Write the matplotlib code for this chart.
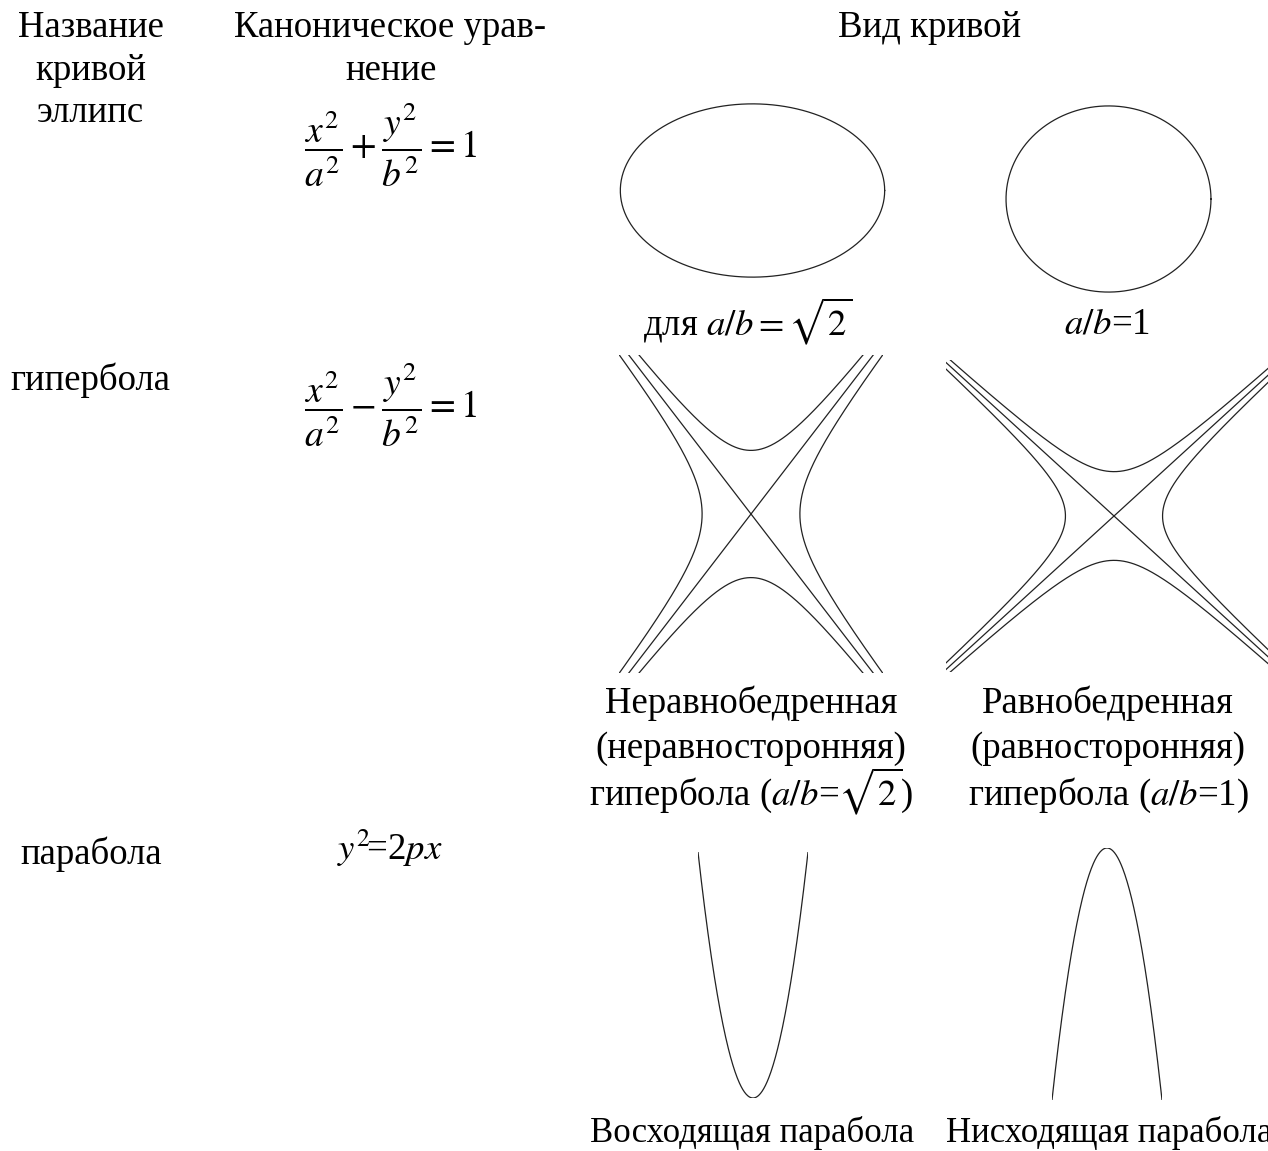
import numpy as np
import matplotlib
matplotlib.use('Agg')
import matplotlib.pyplot as plt

plt.rcParams['font.family'] = ['Liberation Serif', 'DejaVu Serif']
plt.rcParams['mathtext.fontset'] = 'stix'

W, H = 1268, 1151

# данные кривых (полуоси, параметры, окна)
ellipse_ab = [(1.53, 1.0), (1.1, 1.0)]
hyper_ab = [(1.0, 1.3), (1.0, 0.91)]
hyper_lim = [(2.7, 3.25), (3.46, 3.2)]
parab_c = [4.47, -4.62]

col_names = ['Название', 'кривой']
col_eq = ['Каноническое урав-', 'нение']
col_view = 'Вид кривой'
curve_names = ['эллипс', 'гипербола', 'парабола']
equations = [r'$\dfrac{x^2}{a^2}+\dfrac{y^2}{b^2}=1$',
             r'$\dfrac{x^2}{a^2}-\dfrac{y^2}{b^2}=1$',
             r'$y^2\!$=2$px$']
ellipse_labels = [r'для $a/b=\sqrt{2}$', r'$a/b$=1']
hyper_labels = [['Неравнобедренная', '(неравносторонняя)', r'гипербола ($a/b$=$\sqrt{2}$)'],
                ['Равнобедренная', '(равносторонняя)', r'гипербола ($a/b$=1)']]
parab_labels = ['Восходящая парабола', 'Нисходящая парабола']

FS = 26.5
LC = '#222222'
LW = 0.9

fig = plt.figure(figsize=(W / 100, H / 100), dpi=100)
ax = fig.add_axes([0, 0, 1, 1])
ax.set_xlim(0, W)
ax.set_ylim(H, 0)
ax.axis('off')


def box(x0, y0, x1, y1):
    a = fig.add_axes([x0 / W, 1 - y1 / H, (x1 - x0) / W, (y1 - y0) / H])
    a.axis('off')
    return a


# шапка
ax.text(91, 37, col_names[0], fontsize=FS, ha='center', va='baseline')
ax.text(91, 80, col_names[1], fontsize=FS, ha='center', va='baseline')
ax.text(390, 37, col_eq[0], fontsize=FS, ha='center', va='baseline')
ax.text(391, 80, col_eq[1], fontsize=FS, ha='center', va='baseline')
ax.text(930, 37, col_view, fontsize=FS, ha='center', va='baseline')

# названия и уравнения
ax.text(90, 122, curve_names[0], fontsize=FS, ha='center', va='baseline')
ax.text(10, 390, curve_names[1], fontsize=FS, ha='left', va='baseline')
ax.text(20, 864, curve_names[2], fontsize=FS, ha='left', va='baseline')
ax.text(391, 145, equations[0], fontsize=27, ha='center', va='center')
ax.text(391, 405, equations[1], fontsize=27, ha='center', va='center')
ax.text(390, 860, equations[2], fontsize=FS, ha='center', va='baseline')

# эллипсы
t = np.linspace(0, 2 * np.pi, 400)
for (ea, eb), bx in zip(ellipse_ab, [(619, 103, 886, 278), (1005, 105, 1212, 293)]):
    a = box(*bx)
    a.plot(ea * np.cos(t), eb * np.sin(t), color=LC, lw=LW)
    a.set_xlim(-ea * 1.01, ea * 1.01)
    a.set_ylim(-eb * 1.01, eb * 1.01)
ax.text(748, 335, ellipse_labels[0], fontsize=FS, ha='center', va='baseline')
ax.text(1107, 333, ellipse_labels[1], fontsize=FS, ha='center', va='baseline')

# гиперболы
s = np.linspace(-3, 3, 600)
for (ha_, hb_), (lx, ly), bx in zip(hyper_ab, hyper_lim,
                                    [(619, 355, 883, 673), (946, 360, 1282, 672)]):
    a = box(*bx)
    for sg in (1, -1):
        a.plot(sg * ha_ * np.cosh(s), hb_ * np.sinh(s), color=LC, lw=LW)
        a.plot(ha_ * np.sinh(s), sg * hb_ * np.cosh(s), color=LC, lw=LW)
        xs = np.array([-lx * 2, lx * 2])
        a.plot(xs, sg * hb_ / ha_ * xs, color=LC, lw=LW)
    a.set_xlim(-lx, lx)
    a.set_ylim(-ly, ly)
for lines, cx in zip(hyper_labels, [751, 1108]):
    for txt, yb in zip(lines, [713, 758, 805]):
        ax.text(cx, yb, txt, fontsize=FS, ha='center', va='baseline')

# параболы
u = np.linspace(-1, 1, 200)
for c, bx in zip(parab_c, [(698, 852, 808, 1098), (1052, 848, 1162, 1100)]):
    a = box(*bx)
    a.plot(u, c * u ** 2, color=LC, lw=LW)
    a.set_xlim(-1.0, 1.0)
    a.set_ylim(min(0, c), max(0, c))
ax.text(752, 1142, parab_labels[0], fontsize=25, ha='center', va='baseline')
ax.text(946, 1142, parab_labels[1], fontsize=25, ha='left', va='baseline')

fig.savefig('out.png', dpi=100, facecolor='white')
